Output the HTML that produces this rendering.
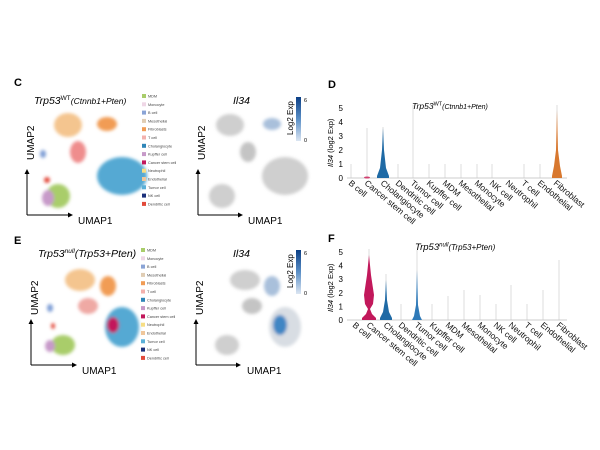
<!DOCTYPE html>
<html><head><style>
html,body{margin:0;padding:0;background:#fff;}
svg{display:block;font-family:"Liberation Sans",Arial,sans-serif;}
</style></head><body>
<svg width="600" height="450" viewBox="0 0 600 450" xmlns="http://www.w3.org/2000/svg">
<defs>
<linearGradient id="cb" x1="0" y1="1" x2="0" y2="0"><stop offset="0" stop-color="#dce6f2"/><stop offset="0.5" stop-color="#5b8fc6"/><stop offset="1" stop-color="#0b3f86"/></linearGradient>
<filter id="bl"><feGaussianBlur stdDeviation="1.5"/></filter>
</defs>
<rect width="600" height="450" fill="#fff"/>

<!-- ===== Panel C ===== -->
<text x="14" y="86" font-size="11" font-weight="bold">C</text>
<text x="34" y="104" font-size="10.5" font-style="italic">Trp53<tspan dy="-4" font-size="6.5" font-style="normal">WT</tspan><tspan dy="4" font-size="8.5">(Ctnnb1+Pten)</tspan></text>
<g filter="url(#bl)">
<ellipse cx="68" cy="125" rx="14" ry="12" fill="#f4c58f"/>
<ellipse cx="107" cy="124" rx="10" ry="7" fill="#f19c55"/>
<ellipse cx="78" cy="152" rx="8" ry="11" fill="#ef8d8d"/>
<ellipse cx="122" cy="176" rx="25" ry="19" fill="#54a9d3"/>
<ellipse cx="58" cy="196" rx="12" ry="12" fill="#a9cd6b"/>
<ellipse cx="48" cy="198" rx="6" ry="8" fill="#c79ac9"/>
<ellipse cx="43" cy="154" rx="3" ry="4" fill="#7f9fd6"/>
<ellipse cx="47" cy="180" rx="3" ry="3" fill="#e24a3a"/>
</g>
<path d="M27 215 V172 M27 215 H70" stroke="#000" stroke-width="1" fill="none"/>
<path d="M24.5 174 L27 169 L29.5 174Z M68 212.5 L73 215 L68 217.5Z" fill="#000"/>
<text transform="translate(34,160) rotate(-90)" font-size="10">UMAP2</text>
<text x="78" y="224" font-size="10">UMAP1</text>
<g font-size="3.8" fill="#444">
<rect x="142" y="94" width="4" height="4" fill="#a9cd6b"/><text x="148" y="97.5">MDM</text>
<rect x="142" y="102.3" width="4" height="4" fill="#efd7e6"/><text x="148" y="105.8">Monocyte</text>
<rect x="142" y="110.6" width="4" height="4" fill="#8aa4d6"/><text x="148" y="114.1">B cell</text>
<rect x="142" y="118.9" width="4" height="4" fill="#e0cdb4"/><text x="148" y="122.4">Mesothelial</text>
<rect x="142" y="127.2" width="4" height="4" fill="#f19c55"/><text x="148" y="130.7">Fibroblasts</text>
<rect x="142" y="135.5" width="4" height="4" fill="#f3b1ad"/><text x="148" y="139">T cell</text>
<rect x="142" y="143.8" width="4" height="4" fill="#2f86b8"/><text x="148" y="147.3">Cholangiocyte</text>
<rect x="142" y="152.1" width="4" height="4" fill="#c79ac9"/><text x="148" y="155.6">Kupffer cell</text>
<rect x="142" y="160.4" width="4" height="4" fill="#c2185b"/><text x="148" y="163.9">Cancer stem cell</text>
<rect x="142" y="168.7" width="4" height="4" fill="#f7de84"/><text x="148" y="172.2">Neutrophil</text>
<rect x="142" y="177" width="4" height="4" fill="#f0c79b"/><text x="148" y="180.5">Endothelial</text>
<rect x="142" y="185.3" width="4" height="4" fill="#5bb0d8"/><text x="148" y="188.8">Tumor cell</text>
<rect x="142" y="193.6" width="4" height="4" fill="#1a2f7a"/><text x="148" y="197.1">NK cell</text>
<rect x="142" y="201.9" width="4" height="4" fill="#e24a3a"/><text x="148" y="205.4">Dendritic cell</text>
</g>
<!-- C right umap -->
<text x="233" y="104" font-size="10.5" font-style="italic">Il34</text>
<g filter="url(#bl)" fill="#cfcfcf">
<ellipse cx="230" cy="125" rx="14" ry="11"/>
<ellipse cx="272" cy="124" rx="9" ry="6" fill="#a9c0db"/>
<ellipse cx="248" cy="152" rx="8" ry="10" fill="#c4c4c4"/>
<ellipse cx="285" cy="176" rx="23" ry="19"/>
<ellipse cx="222" cy="196" rx="13" ry="12"/>
</g>
<path d="M198 215 V172 M198 215 H240" stroke="#000" stroke-width="1" fill="none"/>
<path d="M195.5 174 L198 169 L200.5 174Z M238 212.5 L243 215 L238 217.5Z" fill="#000"/>
<text transform="translate(205,160) rotate(-90)" font-size="10">UMAP2</text>
<text x="248" y="224" font-size="10">UMAP1</text>
<rect x="296" y="97" width="5" height="44" fill="url(#cb)"/>
<text transform="translate(293,135) rotate(-90)" font-size="8">Log2 Exp</text>
<text x="304" y="102" font-size="5.5">6</text>
<text x="304" y="142" font-size="5.5">0</text>

<!-- ===== Panel D ===== -->
<text x="328" y="88" font-size="11" font-weight="bold">D</text>
<text x="412" y="109" font-size="8.5" font-style="italic">Trp53<tspan dy="-3.5" font-size="5.5" font-style="normal">WT</tspan><tspan dy="3.5" font-size="7">(Ctnnb1+Pten)</tspan></text>
<g font-size="8" text-anchor="end">
<text x="343" y="181">0</text><text x="343" y="167">1</text><text x="343" y="153">2</text>
<text x="343" y="139">3</text><text x="343" y="125">4</text><text x="343" y="111">5</text>
</g>
<text transform="translate(333,167) rotate(-90)" font-size="7.5"><tspan font-style="italic">Il34</tspan> (log2 Exp)</text>
<line x1="347" y1="178" x2="567" y2="178" stroke="#999" stroke-width="0.5"/>
<g stroke="#c8c8c8" stroke-width="0.6">
<line x1="351" y1="178" x2="351" y2="164"/><line x1="367" y1="178" x2="367" y2="128"/>
<line x1="383" y1="178" x2="383" y2="127"/><line x1="398" y1="178" x2="398" y2="164"/>
<line x1="413" y1="178" x2="413" y2="105"/><line x1="429" y1="178" x2="429" y2="164"/>
<line x1="445" y1="178" x2="445" y2="164"/><line x1="461" y1="178" x2="461" y2="164"/>
<line x1="477" y1="178" x2="477" y2="164"/><line x1="492" y1="178" x2="492" y2="164"/>
<line x1="524" y1="178" x2="524" y2="164"/><line x1="540" y1="178" x2="540" y2="164"/>
<line x1="557" y1="178" x2="557" y2="105"/>
</g>
<path d="M383 128 L384 150 L386 168 L389 176 L389 178 L377 178 L377 176 L380 168 L382 150Z" fill="#1f6aa5"/>
<path d="M557 110 L558 150 L560 166 L562 176 L562 178 L552 178 L552 176 L554 166 L556 150Z" fill="#d8782f"/>
<ellipse cx="367" cy="177.5" rx="3" ry="1" fill="#d04070"/>
<g font-size="8.5" fill="#111">
<text transform="translate(348,184) rotate(40)">B cell</text>
<text transform="translate(364,184) rotate(40)">Cancer stem cell</text>
<text transform="translate(380,184) rotate(40)">Cholangiocyte</text>
<text transform="translate(395,184) rotate(40)">Dendritic cell</text>
<text transform="translate(410,184) rotate(40)">Tumor cell</text>
<text transform="translate(426,184) rotate(40)">Kupffer cell</text>
<text transform="translate(442,184) rotate(40)">MDM</text>
<text transform="translate(458,184) rotate(40)">Mesothelial</text>
<text transform="translate(474,184) rotate(40)">Monocyte</text>
<text transform="translate(489,184) rotate(40)">NK cell</text>
<text transform="translate(505,184) rotate(40)">Neutrophil</text>
<text transform="translate(521,184) rotate(40)">T cell</text>
<text transform="translate(537,184) rotate(40)">Endothelial</text>
<text transform="translate(553,184) rotate(40)">Fibroblast</text>
</g>

<!-- ===== Panel E ===== -->
<text x="14" y="244" font-size="11" font-weight="bold">E</text>
<text x="38" y="257" font-size="10.5" font-style="italic">Trp53<tspan dy="-4" font-size="6.5">null</tspan><tspan dy="4">(Trp53+Pten)</tspan></text>
<g filter="url(#bl)">
<ellipse cx="80" cy="280" rx="15" ry="11" fill="#f4c58f"/>
<ellipse cx="108" cy="286" rx="8" ry="10" fill="#f19c55"/>
<ellipse cx="88" cy="306" rx="10" ry="8" fill="#efa9a4"/>
<ellipse cx="122" cy="327" rx="17" ry="20" fill="#54a9d3"/>
<ellipse cx="113" cy="325" rx="6" ry="8" fill="#c2185b"/>
<ellipse cx="63" cy="345" rx="12" ry="10" fill="#a9cd6b"/>
<ellipse cx="50" cy="346" rx="5" ry="6" fill="#c79ac9"/>
<ellipse cx="50" cy="308" rx="3" ry="4" fill="#7f9fd6"/>
<ellipse cx="53" cy="326" rx="2" ry="3" fill="#e24a3a"/>
</g>
<path d="M31 365 V322 M31 365 H74" stroke="#000" stroke-width="1" fill="none"/>
<path d="M28.5 324 L31 319 L33.5 324Z M72 362.5 L77 365 L72 367.5Z" fill="#000"/>
<text transform="translate(38,315) rotate(-90)" font-size="10">UMAP2</text>
<text x="82" y="374" font-size="10">UMAP1</text>
<g font-size="3.8" fill="#444">
<rect x="141" y="248" width="4" height="4" fill="#a9cd6b"/><text x="147" y="251.5">MDM</text>
<rect x="141" y="256.3" width="4" height="4" fill="#efd7e6"/><text x="147" y="259.8">Monocyte</text>
<rect x="141" y="264.6" width="4" height="4" fill="#8aa4d6"/><text x="147" y="268.1">B cell</text>
<rect x="141" y="272.9" width="4" height="4" fill="#e0cdb4"/><text x="147" y="276.4">Mesothelial</text>
<rect x="141" y="281.2" width="4" height="4" fill="#f19c55"/><text x="147" y="284.7">Fibroblasts</text>
<rect x="141" y="289.5" width="4" height="4" fill="#f3b1ad"/><text x="147" y="293">T cell</text>
<rect x="141" y="297.8" width="4" height="4" fill="#2f86b8"/><text x="147" y="301.3">Cholangiocyte</text>
<rect x="141" y="306.1" width="4" height="4" fill="#c79ac9"/><text x="147" y="309.6">Kupffer cell</text>
<rect x="141" y="314.4" width="4" height="4" fill="#c2185b"/><text x="147" y="317.9">Cancer stem cell</text>
<rect x="141" y="322.7" width="4" height="4" fill="#f7de84"/><text x="147" y="326.2">Neutrophil</text>
<rect x="141" y="331" width="4" height="4" fill="#f0c79b"/><text x="147" y="334.5">Endothelial</text>
<rect x="141" y="339.3" width="4" height="4" fill="#5bb0d8"/><text x="147" y="342.8">Tumor cell</text>
<rect x="141" y="347.6" width="4" height="4" fill="#1a2f7a"/><text x="147" y="351.1">NK cell</text>
<rect x="141" y="355.9" width="4" height="4" fill="#e24a3a"/><text x="147" y="359.4">Dendritic cell</text>
</g>
<!-- E right umap -->
<text x="233" y="257" font-size="10.5" font-style="italic">Il34</text>
<g filter="url(#bl)" fill="#cfcfcf">
<ellipse cx="245" cy="280" rx="15" ry="10"/>
<ellipse cx="272" cy="286" rx="8" ry="10" fill="#a9c0db"/>
<ellipse cx="252" cy="306" rx="10" ry="8" fill="#c4c4c4"/>
<ellipse cx="285" cy="327" rx="16" ry="20" fill="#d8dde3"/>
<ellipse cx="280" cy="325" rx="7" ry="10" fill="#3f86c4"/>
<ellipse cx="227" cy="345" rx="12" ry="10"/>
</g>
<path d="M196 365 V322 M196 365 H238" stroke="#000" stroke-width="1" fill="none"/>
<path d="M193.5 324 L196 319 L198.5 324Z M236 362.5 L241 365 L236 367.5Z" fill="#000"/>
<text transform="translate(203,315) rotate(-90)" font-size="10">UMAP2</text>
<text x="247" y="374" font-size="10">UMAP1</text>
<rect x="296" y="250" width="5" height="44" fill="url(#cb)"/>
<text transform="translate(293,288) rotate(-90)" font-size="8">Log2 Exp</text>
<text x="304" y="255" font-size="5.5">6</text>
<text x="304" y="295" font-size="5.5">0</text>

<!-- ===== Panel F ===== -->
<text x="328" y="242" font-size="11" font-weight="bold">F</text>
<text x="415" y="250" font-size="9.5" font-style="italic">Trp53<tspan dy="-3.5" font-size="6">null</tspan><tspan dy="3.5" font-size="8">(Trp53+Pten)</tspan></text>
<g font-size="8" text-anchor="end">
<text x="343" y="323">0</text><text x="343" y="309.4">1</text><text x="343" y="295.8">2</text>
<text x="343" y="282.2">3</text><text x="343" y="268.6">4</text><text x="343" y="255">5</text>
</g>
<text transform="translate(333,312) rotate(-90)" font-size="7.5"><tspan font-style="italic">Il34</tspan> (log2 Exp)</text>
<line x1="347" y1="320" x2="567" y2="320" stroke="#999" stroke-width="0.5"/>
<g stroke="#c8c8c8" stroke-width="0.6">
<line x1="369" y1="320" x2="369" y2="249"/><line x1="386" y1="320" x2="386" y2="274"/>
<line x1="401" y1="320" x2="401" y2="304"/><line x1="417" y1="320" x2="417" y2="250"/>
<line x1="432" y1="320" x2="432" y2="304"/><line x1="448" y1="320" x2="448" y2="296"/>
<line x1="464" y1="320" x2="464" y2="290"/><line x1="480" y1="320" x2="480" y2="295"/>
<line x1="496" y1="320" x2="496" y2="304"/><line x1="511" y1="320" x2="511" y2="285"/>
<line x1="527" y1="320" x2="527" y2="304"/><line x1="543" y1="320" x2="543" y2="290"/>
<line x1="559" y1="320" x2="559" y2="260"/>
</g>
<path d="M369 255 L371 275 L374 295 L373 304 L370 309 L372 314 L376 318 L376 320 L362 320 L362 318 L366 314 L368 309 L365 304 L364 295 L367 275Z" fill="#c2185b"/>
<path d="M386 280 L387 300 L389 312 L392 318 L392 320 L380 320 L380 318 L383 312 L385 300Z" fill="#1f6aa5"/>
<path d="M417 270 L418 305 L420 316 L422 320 L412 320 L414 316 L416 305Z" fill="#2f7ab8"/>
<g font-size="8.5" fill="#111">
<text transform="translate(352,326) rotate(40)">B cell</text>
<text transform="translate(366,326) rotate(40)">Cancer stem cell</text>
<text transform="translate(383,326) rotate(40)">Cholangiocyte</text>
<text transform="translate(398,326) rotate(40)">Dendritic cell</text>
<text transform="translate(414,326) rotate(40)">Tumor cell</text>
<text transform="translate(429,326) rotate(40)">Kupffer cell</text>
<text transform="translate(445,326) rotate(40)">MDM</text>
<text transform="translate(461,326) rotate(40)">Mesothelial</text>
<text transform="translate(477,326) rotate(40)">Monocyte</text>
<text transform="translate(493,326) rotate(40)">NK cell</text>
<text transform="translate(508,326) rotate(40)">Neutrophil</text>
<text transform="translate(524,326) rotate(40)">T cell</text>
<text transform="translate(540,326) rotate(40)">Endothelial</text>
<text transform="translate(556,326) rotate(40)">Fibroblast</text>
</g>
</svg>
</body></html>
